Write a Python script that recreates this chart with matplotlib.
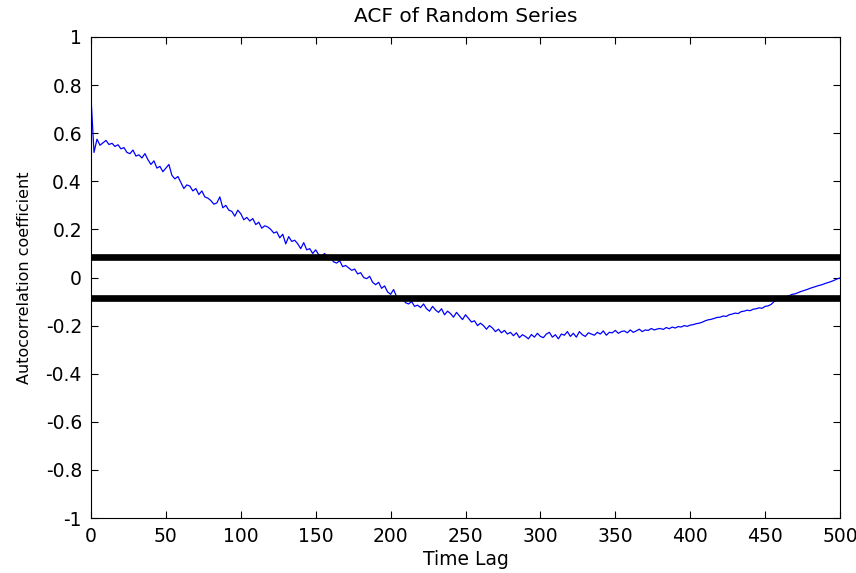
import matplotlib
matplotlib.use("Agg")
import matplotlib.pyplot as plt

plt.rcParams['font.family'] = ['DejaVu Sans']

# ACF values read at every 2nd lag (0..500)
acf_values = [
    0.75, 0.52, 0.575, 0.55, 0.56, 0.57, 0.553, 0.558, 0.545, 0.552,
    0.535, 0.54, 0.52, 0.515, 0.53, 0.505, 0.51, 0.497, 0.515, 0.49,
    0.47, 0.485, 0.455, 0.462, 0.44, 0.455, 0.47, 0.425, 0.41, 0.42,
    0.395, 0.37, 0.385, 0.38, 0.36, 0.37, 0.345, 0.36, 0.335, 0.33,
    0.32, 0.305, 0.31, 0.335, 0.29, 0.3, 0.28, 0.275, 0.255, 0.28,
    0.265, 0.24, 0.25, 0.235, 0.245, 0.22, 0.23, 0.205, 0.215, 0.21,
    0.2, 0.185, 0.19, 0.165, 0.18, 0.14, 0.17, 0.15, 0.155, 0.14,
    0.12, 0.145, 0.115, 0.12, 0.1, 0.115, 0.095, 0.09, 0.1, 0.075,
    0.08, 0.065, 0.06, 0.07, 0.045, 0.05, 0.04, 0.03, 0.035, 0.015,
    0.02, 0.0, -0.005, 0.005, -0.02, -0.03, -0.02, -0.045, -0.035, -0.06,
    -0.07, -0.05, -0.08, -0.095, -0.085, -0.105, -0.11, -0.1, -0.12, -0.115,
    -0.125, -0.11, -0.13, -0.14, -0.12, -0.135, -0.145, -0.13, -0.155, -0.14,
    -0.15, -0.165, -0.145, -0.16, -0.175, -0.155, -0.17, -0.185, -0.18, -0.2,
    -0.19, -0.2, -0.215, -0.2, -0.21, -0.225, -0.215, -0.23, -0.22, -0.235,
    -0.228, -0.242, -0.23, -0.25, -0.238, -0.245, -0.255, -0.237, -0.248, -0.232,
    -0.245, -0.25, -0.235, -0.228, -0.248, -0.238, -0.255, -0.235, -0.24, -0.225,
    -0.245, -0.232, -0.248, -0.225, -0.238, -0.245, -0.23, -0.235, -0.24, -0.228,
    -0.235, -0.222, -0.24, -0.228, -0.23, -0.22, -0.232, -0.225, -0.222, -0.23,
    -0.218, -0.228, -0.222, -0.215, -0.225, -0.218, -0.22, -0.212, -0.218, -0.214,
    -0.212, -0.216, -0.208, -0.213, -0.206, -0.21, -0.204, -0.206, -0.2, -0.203,
    -0.198, -0.196, -0.192, -0.19, -0.186, -0.18, -0.176, -0.174, -0.17, -0.166,
    -0.165, -0.16, -0.162, -0.155, -0.152, -0.148, -0.15, -0.142, -0.14, -0.136,
    -0.138, -0.132, -0.13, -0.126, -0.128, -0.12, -0.118, -0.112, -0.1, -0.095,
    -0.09, -0.086, -0.08, -0.076, -0.07, -0.068, -0.063, -0.058, -0.054, -0.05,
    -0.045, -0.041, -0.037, -0.033, -0.03, -0.025, -0.021, -0.017, -0.012, -0.006,
    -0.002,
]
lags = list(range(0, 501, 2))
conf_bound = 0.087
x_ticks = [0, 50, 100, 150, 200, 250, 300, 350, 400, 450, 500]
y_ticks = [-1, -0.8, -0.6, -0.4, -0.2, 0, 0.2, 0.4, 0.6, 0.8, 1]
y_tick_labels = ['-1', '-0.8', '-0.6', '-0.4', '-0.2', '0', '0.2', '0.4', '0.6', '0.8', '1']

fig = plt.figure(figsize=(8.56, 5.73), dpi=100)
ax = fig.add_axes([91/856, 1 - 518/573, (840-91)/856, (518-37)/573])

ax.plot(lags, acf_values, color='#0000ff', linewidth=0.9)
ax.plot([0, 500], [conf_bound, conf_bound], color='black', linewidth=4.8, solid_capstyle='butt')
ax.plot([0, 500], [-conf_bound, -conf_bound], color='black', linewidth=4.8, solid_capstyle='butt')

ax.set_xlim(0, 500)
ax.set_ylim(-1, 1)
ax.set_xticks(x_ticks)
ax.set_xticklabels([str(t) for t in x_ticks])
ax.set_yticks(y_ticks)
ax.set_yticklabels(y_tick_labels)
ax.tick_params(direction='in', top=True, right=True, length=5, width=0.8,
               labelsize=13.5, pad=6.5)
for s in ax.spines.values():
    s.set_linewidth(0.8)

ax.set_title('ACF of Random Series', fontsize=14.5, pad=10.5)
ax.set_xlabel('Time Lag', fontsize=13.5, labelpad=3)
ax.set_ylabel('Autocorrelation coefficient', fontsize=11.5, labelpad=10)

fig.savefig('out.png', dpi=100)
